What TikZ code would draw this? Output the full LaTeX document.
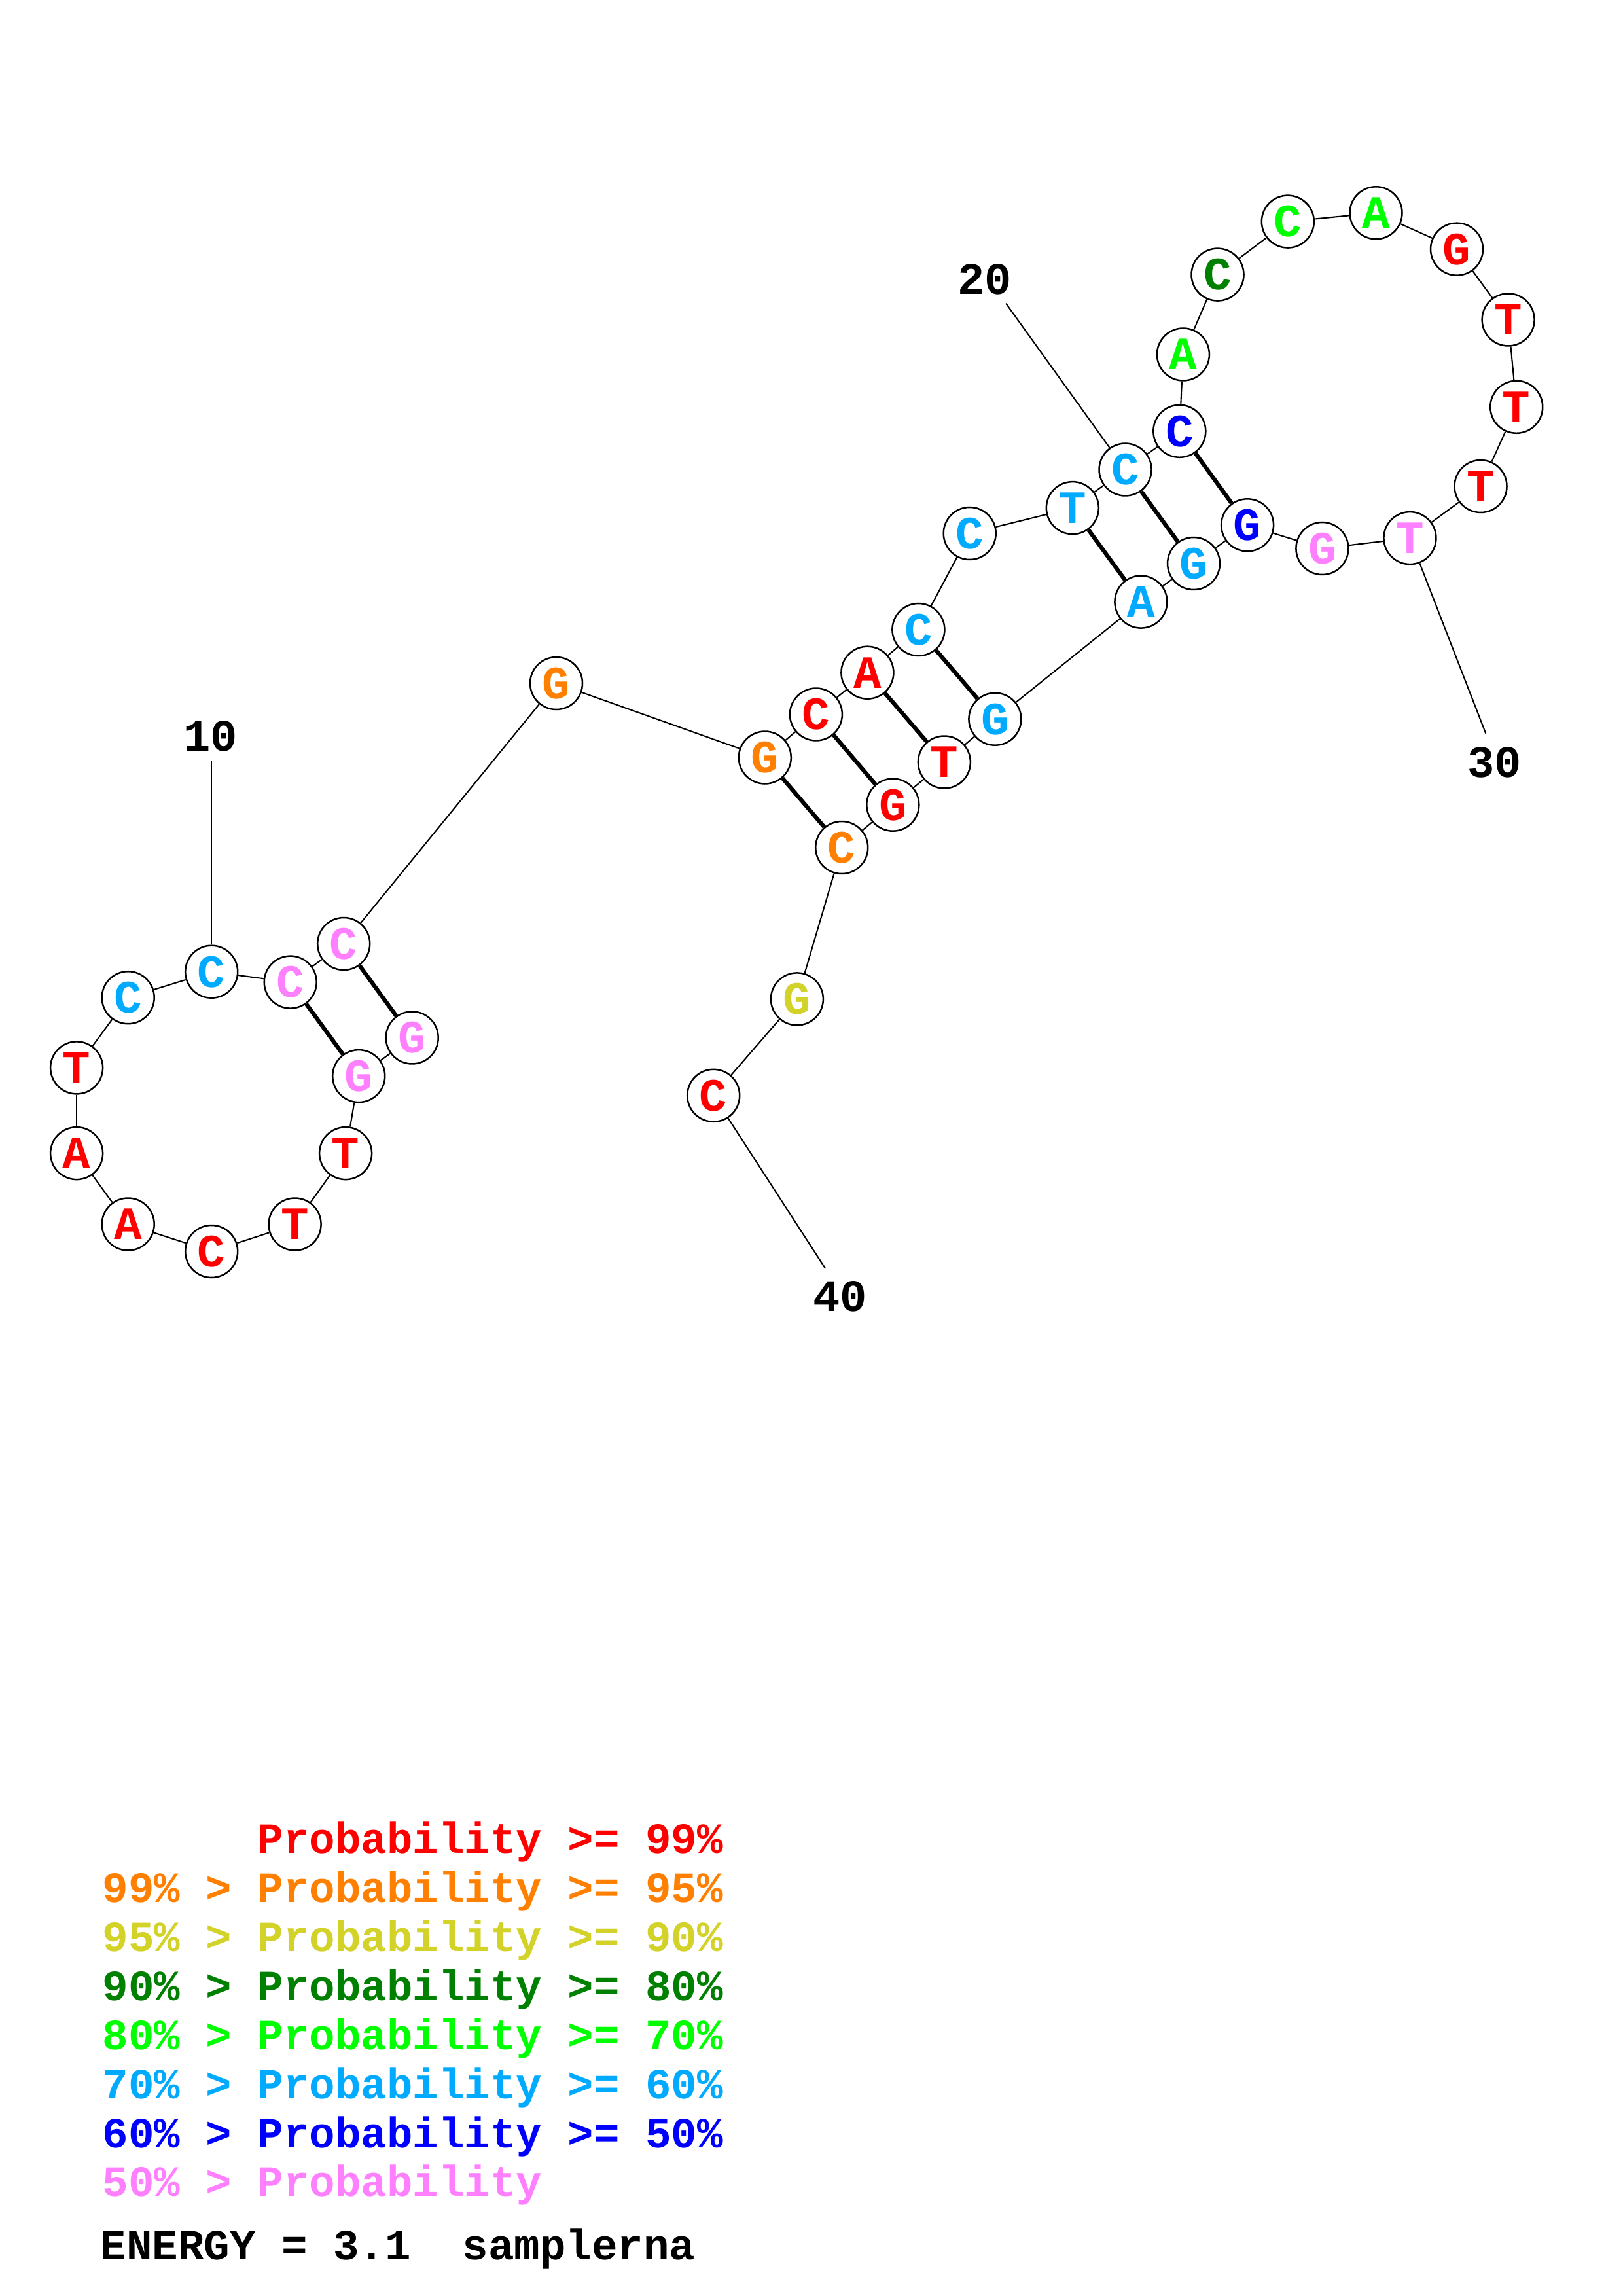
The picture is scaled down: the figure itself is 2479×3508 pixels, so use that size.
\documentclass[tikz,border=0pt]{standalone}
\usepackage{fontspec}
\setmainfont{Liberation Mono}
\newfontfamily\courfont{Liberation Mono}
\newcommand\ntfont{\courfont\bfseries\fontsize{17pt}{19pt}\selectfont}
\newcommand\lblfont{\courfont\bfseries\fontsize{16.5pt}{19pt}\selectfont}
\newcommand\legfont{\courfont\bfseries\fontsize{15.8pt}{19pt}\selectfont}
\definecolor{cred}{RGB}{255,0,0}
\definecolor{corange}{RGB}{255,128,0}
\definecolor{cyellow}{RGB}{210,210,40}
\definecolor{cdkgreen}{RGB}{0,128,0}
\definecolor{cgreen}{RGB}{0,255,0}
\definecolor{cltblue}{RGB}{0,170,255}
\definecolor{cblue}{RGB}{0,0,255}
\definecolor{cpink}{RGB}{255,128,255}
\begin{document}
\begin{tikzpicture}[x=0.24pt,y=-0.24pt,
  nt/.style={circle, draw=black, line width=0.6pt, fill=white, minimum size=19.2pt, inner sep=0pt, font=\ntfont},
  bb/.style={line width=0.5pt},
  pr/.style={line width=1.5pt},
  lbl/.style={font=\lblfont, inner sep=0pt, anchor=center},
  leg/.style={font=\legfont, inner sep=0pt, anchor=base west}]
\fill[white] (0,0) rectangle (2479,3508);
\useasboundingbox (0,0) rectangle (2479,3508);
% nucleotides
\node[nt,text=cpink]   (n1)  at (629.7,1585.5) {G};
\node[nt,text=cpink]   (n2)  at (548.2,1644.1) {G};
\node[nt,text=cred]    (n3)  at (528.1,1762.1) {T};
\node[nt,text=cred]    (n4)  at (450.6,1870.5) {T};
\node[nt,text=cred]    (n5)  at (323.2,1912.0) {C};
\node[nt,text=cred]    (n6)  at (195.7,1870.5) {A};
\node[nt,text=cred]    (n7)  at (117.1,1762.1) {A};
\node[nt,text=cred]    (n8)  at (117.1,1631.4) {T};
\node[nt,text=cltblue] (n9)  at (195.7,1524.2) {C};
\node[nt,text=cltblue] (n10) at (323.2,1484.7) {C};
\node[nt,text=cpink]   (n11) at (443.7,1500.6) {C};
\node[nt,text=cpink]   (n12) at (525.2,1442.0) {C};
\node[nt,text=corange] (n13) at (850.0,1044.0) {G};
\node[nt,text=corange] (n14) at (1168.8,1157.5) {G};
\node[nt,text=cred]    (n15) at (1246.9,1091.5) {C};
\node[nt,text=cred]    (n16) at (1325.4,1027.7) {A};
\node[nt,text=cltblue] (n17) at (1403.4,962.0) {C};
\node[nt,text=cltblue] (n18) at (1481.7,815.0) {C};
\node[nt,text=cltblue] (n19) at (1638.8,776.1) {T};
\node[nt,text=cltblue] (n20) at (1719.5,717.5) {C};
\node[nt,text=cblue]   (n21) at (1802.3,658.8) {C};
\node[nt,text=cgreen]  (n22) at (1807.9,541.5) {A};
\node[nt,text=cdkgreen](n23) at (1860.5,419.6) {C};
\node[nt,text=cgreen]  (n24) at (1967.8,338.6) {C};
\node[nt,text=cgreen]  (n25) at (2102.5,325.3) {A};
\node[nt,text=cred]    (n26) at (2226.0,380.7) {G};
\node[nt,text=cred]    (n27) at (2304.6,488.5) {T};
\node[nt,text=cred]    (n28) at (2317.2,621.8) {T};
\node[nt,text=cred]    (n29) at (2262.5,743.0) {T};
\node[nt,text=cpink]   (n30) at (2154.4,822.1) {T};
\node[nt,text=cpink]   (n31) at (2020.4,838.0) {G};
\node[nt,text=cblue]   (n32) at (1906.1,802.3) {G};
\node[nt,text=cltblue] (n33) at (1824.0,861.0) {G};
\node[nt,text=cltblue] (n34) at (1743.4,919.6) {A};
\node[nt,text=cltblue] (n35) at (1520.4,1098.7) {G};
\node[nt,text=cred]    (n36) at (1442.9,1164.5) {T};
\node[nt,text=cred]    (n37) at (1364.3,1229.7) {G};
\node[nt,text=corange] (n38) at (1286.2,1295.0) {C};
\node[nt,text=cyellow] (n39) at (1217.9,1526.4) {G};
\node[nt,text=cred]    (n40) at (1090.2,1673.8) {C};
% backbone
\foreach \i [evaluate=\i as \j using int(\i+1)] in {1,...,39} {\draw[bb] (n\i) -- (n\j);}
% pairs
\foreach \a/\b in {1/12,2/11,14/38,15/37,16/36,17/35,19/34,20/33,21/32} {\draw[pr] (n\a) -- (n\b);}
% numbering
\node[lbl] (l10) at (321.4,1124.4) {10};
\node[lbl] (l20) at (1504.8,427.3) {20};
\node[lbl] (l30) at (2283.5,1165.2) {30};
\node[lbl] (l40) at (1283.5,1981.0) {40};
\coordinate (e10) at (323.2,1162.6);
\coordinate (e20) at (1537.1,463.6);
\coordinate (e30) at (2270.2,1120.5);
\coordinate (e40) at (1261.2,1938.2);
\draw[bb] (e10) -- (n10);
\draw[bb] (e20) -- (n20);
\draw[bb] (n30) -- (e30);
\draw[bb] (n40) -- (e40);
% legend
\node[leg,text=cred]     (g1) at (156,2831.6) {\phantom{99\%~>~}Probability~>=~99\%};
\node[leg,text=corange]  (g2) at (156,2906.6) {99\%~>~Probability~>=~95\%};
\node[leg,text=cyellow]  (g3) at (156,2981.6) {95\%~>~Probability~>=~90\%};
\node[leg,text=cdkgreen] (g4) at (156,3056.4) {90\%~>~Probability~>=~80\%};
\node[leg,text=cgreen]   (g5) at (156,3131.2) {80\%~>~Probability~>=~70\%};
\node[leg,text=cltblue]  (g6) at (156,3206.2) {70\%~>~Probability~>=~60\%};
\node[leg,text=cblue]    (g7) at (156,3281.4) {60\%~>~Probability~>=~50\%};
\node[leg,text=cpink]    (g8) at (156,3355.6) {50\%~>~Probability};
\node[leg,text=black]    (g9) at (153,3452.5) {ENERGY~=~3.1~~samplerna};
\end{tikzpicture}
\end{document}
